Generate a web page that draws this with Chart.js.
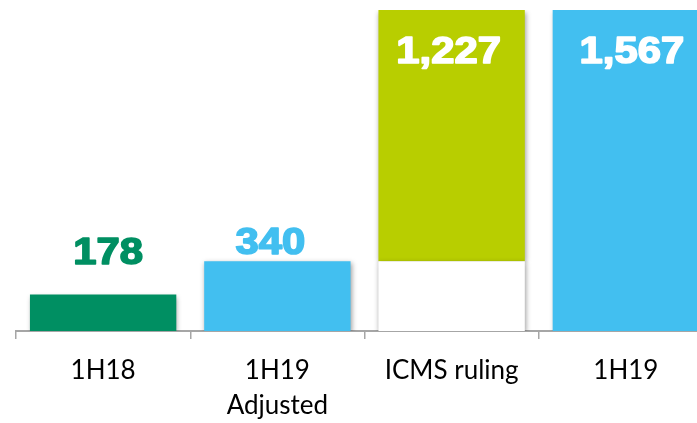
<!DOCTYPE html>
<html>
<head>
<meta charset="utf-8">
<script src="https://cdn.jsdelivr.net/npm/chart.js@4/dist/chart.umd.min.js"></script>
<style>
  html, body { margin: 0; padding: 0; background: #fff; overflow: hidden; }
  #wrap { width: 720px; height: 423px; }
</style>
</head>
<body>
<div id="wrap"><canvas id="c" width="720" height="423"></canvas></div>
<script>
// ---- data ----
const categories = ['1H18', ['1H19', 'Adjusted'], 'ICMS ruling', '1H19'];
const values = [178, 340, 1227, 1567];
const baseValues = [null, null, 340, null];
const barColors = ['#008F62', '#42BFF0', '#B8CE00', '#42BFF0'];
const labelColors = ['#008F62', '#42BFF0', '#FFFFFF', '#FFFFFF'];

// label placement (style, not data)
const labelDy = [-31, -7, 53, 53];
const labelDx = [5, -7, -3, 6];

const shadowPlugin = {
  id: 'shadow',
  beforeDatasetsDraw(chart) {
    const ctx = chart.ctx;
    ctx.save();
    ctx.shadowColor = 'rgba(0,0,0,0.38)';
    ctx.shadowBlur = 5;
    ctx.shadowOffsetX = 1;
    ctx.shadowOffsetY = 2;
  },
  afterDatasetsDraw(chart) {
    chart.ctx.restore();
  }
};

const labelPlugin = {
  id: 'valLabels',
  afterDraw(chart) {
    const ctx = chart.ctx;
    const meta = chart.getDatasetMeta(1);
    meta.data.forEach((bar, i) => {
      const txt = values[i].toLocaleString('en-US');
      ctx.save();
      ctx.font = 'bold 36px "Liberation Sans", Arial, sans-serif';
      ctx.fillStyle = labelColors[i];
      ctx.strokeStyle = labelColors[i];
      ctx.lineWidth = 1.6;
      ctx.lineJoin = 'round';
      ctx.textAlign = 'center';
      ctx.textBaseline = 'alphabetic';
      ctx.translate(bar.x + labelDx[i], bar.y + labelDy[i]);
      ctx.scale(1.16, 1);
      ctx.fillText(txt, 0, 0);
      ctx.strokeText(txt, 0, 0);
      ctx.restore();
    });
  }
};

new Chart(document.getElementById('c'), {
  type: 'bar',
  data: {
    labels: categories,
    datasets: [
      {
        label: 'base',
        data: baseValues,
        backgroundColor: '#FFFFFF',
        barPercentage: 0.84,
        categoryPercentage: 1.0,
        borderWidth: 0
      },
      {
        label: 'value',
        data: values,
        backgroundColor: barColors,
        barPercentage: 0.84,
        categoryPercentage: 1.0,
        borderWidth: 0
      }
    ]
  },
  options: {
    responsive: false,
    animation: false,
    layout: { padding: { left: 16, right: 7, top: 10, bottom: 0 } },
    plugins: {
      legend: { display: false },
      tooltip: { enabled: false }
    },
    scales: {
      x: {
        stacked: true,
        offset: true,
        grid: {
          display: true,
          offset: true,
          drawOnChartArea: false,
          drawTicks: true,
          tickLength: 8,
          color: '#A6A6A6',
          lineWidth: 1.5
        },
        border: { display: true, color: '#A6A6A6', width: 2 },
        ticks: {
          color: '#000000',
          padding: 14,
          maxRotation: 0,
          autoSkip: false,
          font: { family: 'Lato, "Open Sans", sans-serif', size: 26, lineHeight: 1.35 }
        },
        afterFit(scale) { scale.height = 92; }
      },
      y: {
        stacked: true,
        display: false,
        min: 0,
        max: 1567
      }
    }
  },
  plugins: [shadowPlugin, labelPlugin]
});
</script>
</body>
</html>
